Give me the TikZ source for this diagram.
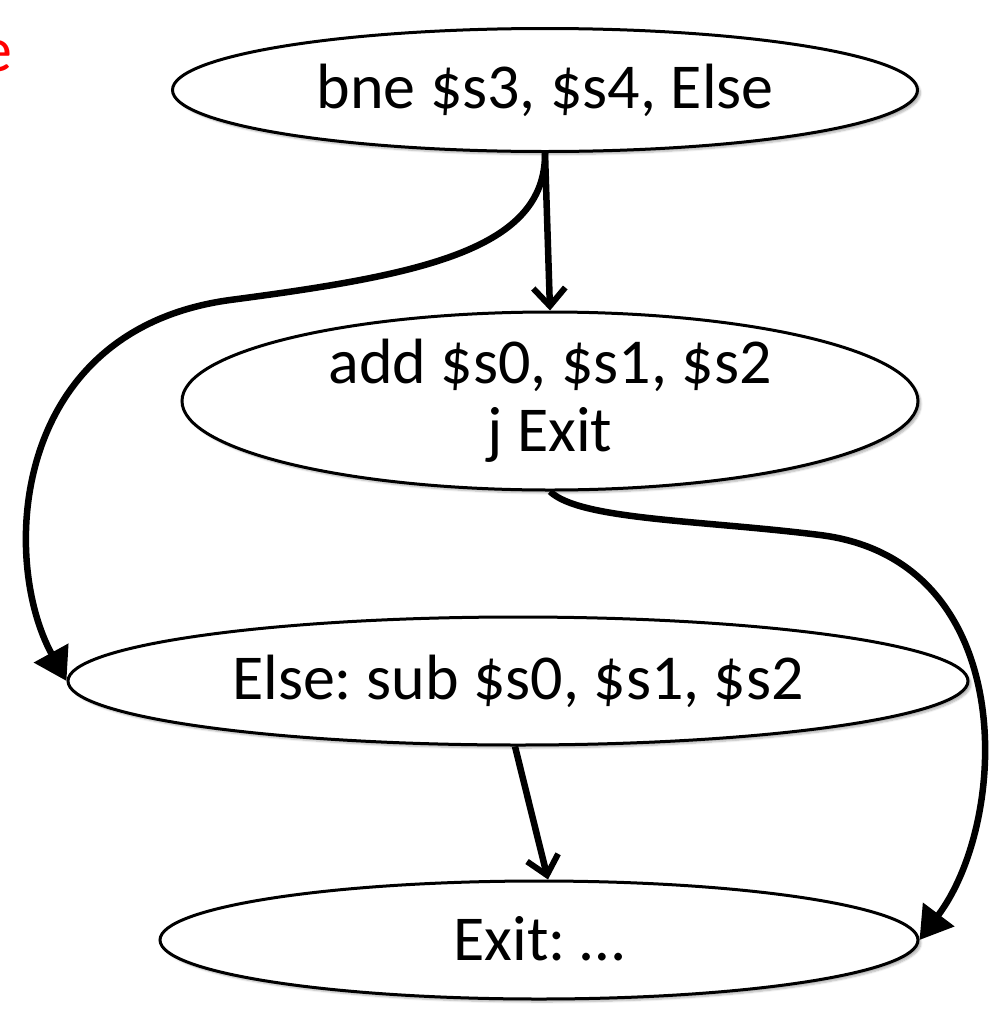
\documentclass[tikz,border=0pt]{standalone}
\usepackage{fontspec}
\setmainfont{Carlito}
\usetikzlibrary{arrows.meta,shapes.geometric,shadows.blur}
\begin{document}
\frenchspacing
\begin{tikzpicture}[x=1pt,y=-1pt,
  blk/.style={ellipse,draw=black,line width=3pt,fill=white,inner sep=0pt,
    font=\fontsize{64}{70}\selectfont,align=center,
    blur shadow={shadow xshift=3pt,shadow yshift=-3pt,shadow blur steps=6,shadow opacity=30}},
  flow/.style={line width=6.5pt,-{Straight Barb[length=18pt,width=32pt,line width=6pt]}},
  jump/.style={line width=6.5pt,-{Triangle[length=32pt,width=38pt]}}]
\useasboundingbox (0,0) rectangle (1003,1031);
\clip (0,0) rectangle (1003,1031);
\node[anchor=east,inner sep=0pt,text=red,font=\fontsize{64}{70}\selectfont] (lbl) at (13,56) {e};
\node[blk,minimum width=745pt,minimum height=123pt] (e1) at (545,90) {\raisebox{8pt}{bne \$s3, \$s4, Else}};
\node[blk,minimum width=736pt,minimum height=178pt] (e2) at (550,401) {add \$s0, \$s1, \$s2\\[-2pt]j Exit};
\node[blk,minimum width=900pt,minimum height=128pt] (e3) at (518,681) {Else: sub \$s0, \$s1, \$s2};
\node[blk,minimum width=758pt,minimum height=118pt] (e4) at (539,940) {\raisebox{4pt}{Exit: \dots}};
\draw[flow] (e1.south) -- (e2.north);
\draw[jump] (e1.south) .. controls (546,250) and (420,275) .. (230,300)
  .. controls (10,330) and (0,560) .. (e3.west);
\draw[jump] (e2.south) .. controls (580,520) and (700,520) .. (820,535)
  .. controls (1020,560) and (1010,820) .. (e4.east);
\draw[flow] ([xshift=-3pt]e3.south) -- ([xshift=9pt]e4.north);
\end{tikzpicture}
\end{document}
